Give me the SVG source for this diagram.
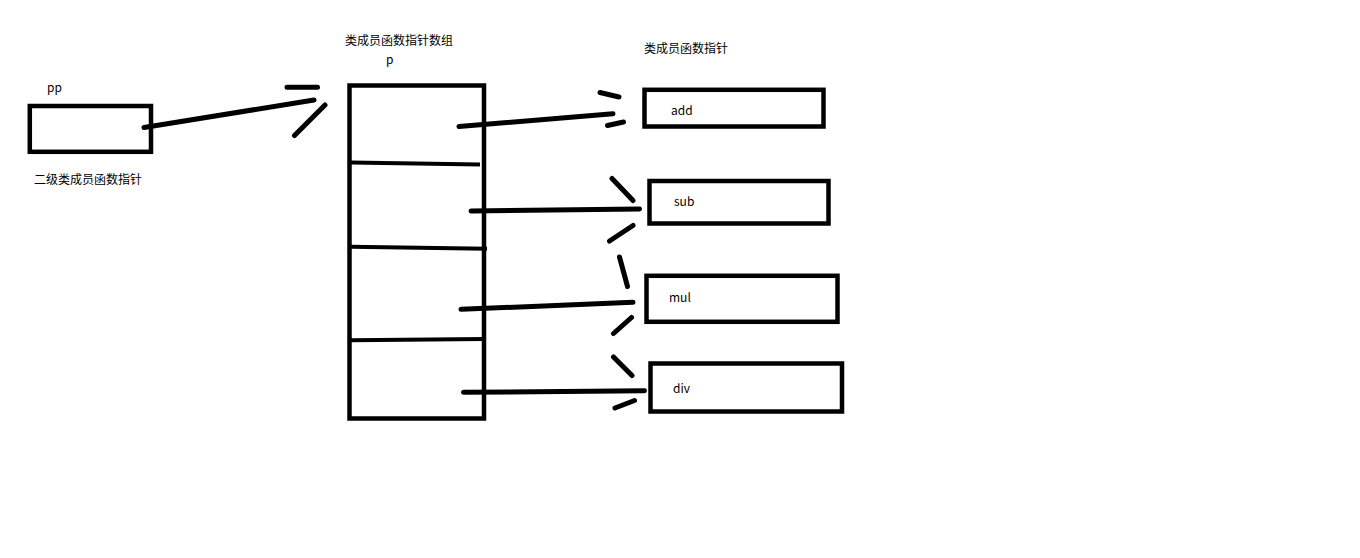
<svg xmlns="http://www.w3.org/2000/svg" width="1360" height="558" viewBox="0 0 1360 558">
<style>
.box{fill:none;stroke:#000;stroke-width:4.5}
.ln{fill:none;stroke:#000;stroke-width:5;stroke-linecap:round}
.sep{fill:none;stroke:#000;stroke-width:4;stroke-linecap:butt}
text{font-family:"Noto Sans CJK SC","Noto Sans",sans-serif;font-size:12px;fill:#000}
</style>
<rect width="1360" height="558" fill="#fff"/>
<g id="pp">
<rect class="box" x="29.8" y="106" width="121.2" height="45.8"/>
<text x="47" y="92">pp</text>
<text x="34" y="184">二级类成员函数指针</text>
</g>
<g id="array">
<rect class="box" x="349.5" y="85.5" width="134.5" height="333"/>
<path class="sep" d="M351 162.5 L480 164.5 M351 246.7 L487 248.7 M351 340.3 L484 339"/>
<text x="345" y="45">类成员函数指针数组</text>
<text x="386" y="64">p</text>
</g>
<g id="add">
<rect class="box" x="644.5" y="89.8" width="179" height="36.7"/>
<text x="671" y="115">add</text>
</g>
<g id="sub">
<rect class="box" x="649.5" y="181" width="179" height="42.5"/>
<text x="674" y="206">sub</text>
</g>
<g id="mul">
<rect class="box" x="646.5" y="275.8" width="191" height="46"/>
<text x="669" y="302">mul</text>
</g>
<g id="div">
<rect class="box" x="650.5" y="363.5" width="191.5" height="48"/>
<text x="673" y="393">div</text>
</g>
<text x="644" y="53">类成员函数指针</text>
<g id="connectors">
<path class="ln" d="M144 127.5 L314 100 M287 87.3 L317.5 87.3 M325 105 L294.5 135.5"/>
<path class="ln" d="M459 126.5 L613 113.7 M600 92.5 L619 97 M607.5 125.5 L623.5 122"/>
<path class="ln" d="M471 211 L639.5 209 M612 178.5 L633 200.5 M633 225.5 L609.5 241"/>
<path class="ln" d="M461 309.3 L633 302.3 M619.5 257 L627.5 286.5 M631.5 317.5 L613.5 333.5"/>
<path class="ln" d="M463.5 392.3 L644.5 390.7 M613.5 357 L632 375.5 M615 408 L634.5 400.5"/>
</g>
</svg>
